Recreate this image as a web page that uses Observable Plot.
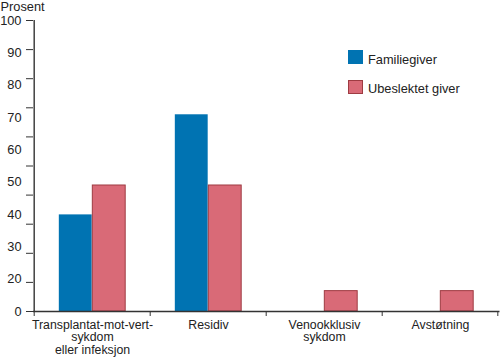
<!DOCTYPE html>
<html>
<head>
<meta charset="utf-8">
<script src="https://cdn.jsdelivr.net/npm/d3@7"></script>
<script src="https://cdn.jsdelivr.net/npm/@observablehq/plot@0.6"></script>
<style>
  html, body { margin: 0; padding: 0; background: #fff; }
  #wrap { position: relative; width: 500px; height: 358px; font-family: "Liberation Sans", Arial, sans-serif; color: #222; }
  .lg { position: absolute; font-size: 12.8px; line-height: 14px; white-space: nowrap; }
  .sw { position: absolute; width: 15px; height: 14px; box-sizing: border-box; }
</style>
</head>
<body>
<div id="wrap"></div>
<script>
const categories = ["Transplantat-mot-vert-\nsykdom\neller infeksjon", "Residiv", "Venookklusiv\nsykdom", "Avstøtning"];
const series = ["Familiegiver", "Ubeslektet giver"];
const familiegiver = [33.2, 67.6, 0, 0];
const ubeslektet = [43.3, 43.3, 7.0, 7.0];
const yTicks = [0, 10, 20, 30, 40, 50, 60, 70, 80, 90, 100];
const yTickLabels = ["0", "20", "30", "40", "50", "60", "70", "80", "90", "100"];
const colors = {"Familiegiver": "#0073b2", "Ubeslektet giver": "#d96a77"};
const redStroke = "#9e3b42";

const width = 500, height = 358;
const marginLeft = 33, marginRight = 0.5, marginTop = 20, marginBottom = 47;
const step = (width - marginLeft - marginRight) / categories.length;
const half = step / 2;
const barW = 33.5;

const data = categories.flatMap((c, i) => [
  {cat: c, series: series[0], value: familiegiver[i]},
  {cat: c, series: series[1], value: ubeslektet[i]}
]);

// label positions: the labels are spread evenly over the axis
const labelPos = yTickLabels.map((d, i) => i * 100 / (yTickLabels.length - 1));
const labelMap = new Map(labelPos.map((p, i) => [p, yTickLabels[i]]));

const plot = Plot.plot({
  width, height, marginLeft, marginRight, marginTop, marginBottom,
  style: {fontFamily: "'Liberation Sans', Arial, sans-serif", fontSize: "12.8px", color: "#222", background: "#fff"},
  x: {domain: categories, padding: 0, label: null},
  y: {domain: [0, 100], label: null},
  marks: [
    Plot.barY(data.filter(d => d.series === series[0] && d.value > 0), {
      x: "cat", y: "value", fill: colors[series[0]],
      insetLeft: half - barW, insetRight: half
    }),
    Plot.barY(data.filter(d => d.series === series[1] && d.value > 0), {
      x: "cat", y: "value", fill: colors[series[1]], stroke: redStroke, strokeWidth: 1,
      insetLeft: half, insetRight: half - barW
    }),
    Plot.ruleY([0], {stroke: "#333", strokeWidth: 1.4}),
    Plot.ruleX([categories[0]], {x: d => d, dx: -half, y1: 0, y2: 100, stroke: "#333", strokeWidth: 1.4}),
    Plot.axisY({ticks: yTicks, tickSize: 7, tickFormat: () => "", stroke: "#333"}),
    Plot.axisY({ticks: labelPos, tickSize: 0, tickPadding: 12, tickFormat: d => labelMap.get(d), fill: "#222", fontSize: 12.8}),
    Plot.axisX({ticks: categories, tickSize: 5, tickFormat: () => "", dx: -half, stroke: "#333"}),
    Plot.axisX({ticks: [categories[categories.length - 1]], tickSize: 5, tickFormat: () => "", dx: half - 1, stroke: "#333"}),
    Plot.axisX({tickSize: 0, tickPadding: 8, lineHeight: 1.03, fill: "#222", fontSize: 12.3}),
    Plot.text(["Prosent"], {frameAnchor: "top-left", dx: -marginLeft, dy: -marginTop + 1, lineAnchor: "top", textAnchor: "start", fill: "#222", fontSize: 12.8})
  ]
});

const wrap = document.getElementById("wrap");
wrap.appendChild(plot);

const legendTops = [50, 79.5];
series.forEach((s, i) => {
  const sw = document.createElement("div");
  sw.className = "sw";
  sw.style.left = "348px";
  sw.style.top = legendTops[i] + "px";
  sw.style.background = colors[s];
  if (i === 1) sw.style.border = "1px solid " + redStroke;
  wrap.appendChild(sw);
  const t = document.createElement("div");
  t.className = "lg";
  t.style.left = "368px";
  t.style.top = (legendTops[i] + 2.5) + "px";
  t.textContent = s;
  wrap.appendChild(t);
});
</script>
</body>
</html>
